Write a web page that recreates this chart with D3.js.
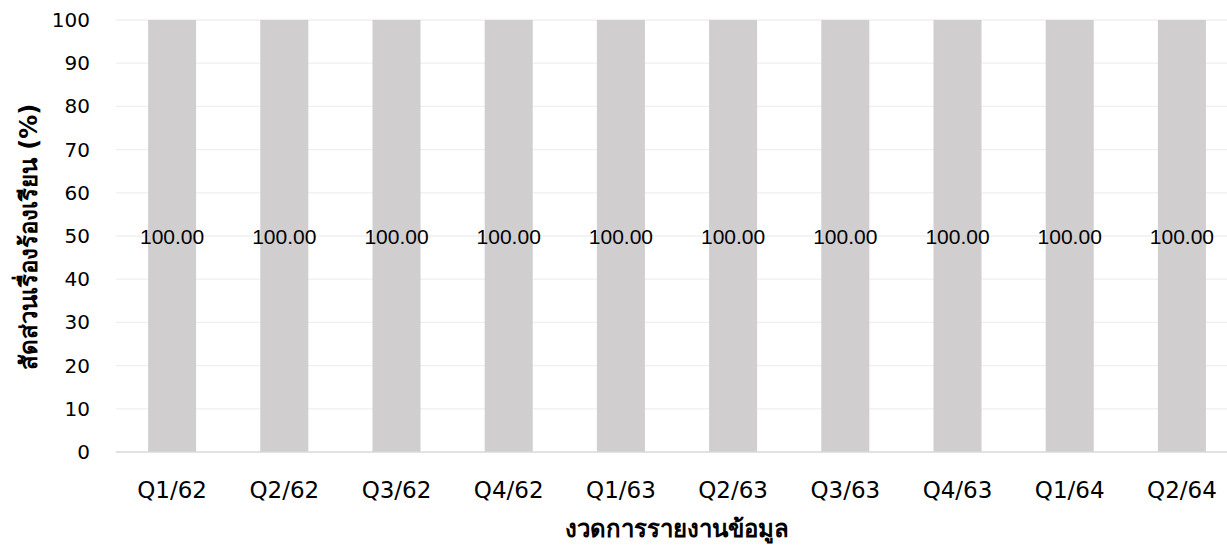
<!DOCTYPE html>
<html>
<head>
<meta charset="utf-8">
<script src="https://cdn.jsdelivr.net/npm/d3@7"></script>
<style>
  html, body { margin: 0; padding: 0; background: #fff; }
  svg { display: block; font-family: "DejaVu Sans", "Noto Sans", sans-serif; }
</style>
</head>
<body>
<svg id="chart" width="1227" height="545"></svg>
<script>
// Reporting periods and complaint share per period (%)
const categories = ["Q1/62", "Q2/62", "Q3/62", "Q4/62", "Q1/63", "Q2/63", "Q3/63", "Q4/63", "Q1/64", "Q2/64"];
const values = [100, 100, 100, 100, 100, 100, 100, 100, 100, 100];
const yTicks = [0, 10, 20, 30, 40, 50, 60, 70, 80, 90, 100];
const xTitle = "งวดการรายงานข้อมูล";
const yTitle = "สัดส่วนเรื่องร้องเรียน (%)";

const svg = d3.select("#chart");
const plot = { left: 116, right: 1238, top: 20, bottom: 452 };

const x = d3.scaleBand()
  .domain(categories)
  .range([plot.left, plot.right])
  .paddingInner(0.572)
  .paddingOuter(0.286);

const y = d3.scaleLinear().domain([0, 100]).range([plot.bottom, plot.top]);

// Horizontal gridlines
svg.append("g")
  .selectAll("line")
  .data(yTicks.filter(d => d > 0))
  .join("line")
  .attr("x1", plot.left).attr("x2", plot.right)
  .attr("y1", d => y(d)).attr("y2", d => y(d))
  .attr("stroke", "#efefef").attr("stroke-width", 1.3);

// Bars
svg.append("g")
  .selectAll("rect")
  .data(categories)
  .join("rect")
  .attr("x", d => x(d))
  .attr("width", x.bandwidth())
  .attr("y", (d, i) => y(values[i]))
  .attr("height", (d, i) => y(0) - y(values[i]))
  .attr("fill", "#d0cece");

// Baseline
svg.append("line")
  .attr("x1", plot.left).attr("x2", plot.right)
  .attr("y1", y(0)).attr("y2", y(0))
  .attr("stroke", "#d9d9d9").attr("stroke-width", 1.5);

// Value labels centred in each bar
svg.append("g")
  .selectAll("text")
  .data(categories)
  .join("text")
  .attr("x", d => x(d) + x.bandwidth() / 2)
  .attr("y", (d, i) => y(values[i] / 2))
  .attr("dy", "0.36em")
  .attr("text-anchor", "middle")
  .attr("font-family", "\"Liberation Sans\", sans-serif")
  .attr("font-size", 21)
  .attr("fill", "#000")
  .text((d, i) => values[i].toFixed(2));

// Y axis tick labels
const yAxis = d3.axisLeft(y).tickValues(yTicks).tickSize(0).tickPadding(0);
const gy = svg.append("g").attr("transform", "translate(90,0)").call(yAxis);
gy.select(".domain").remove();
gy.selectAll("text").attr("font-size", 20).attr("fill", "#000")
  .attr("font-family", "\"DejaVu Sans\", sans-serif");

// X axis tick labels
const xAxis = d3.axisBottom(x).tickSize(0).tickPadding(0);
const gx = svg.append("g").attr("transform", "translate(0,482)").call(xAxis);
gx.select(".domain").remove();
gx.selectAll("text").attr("font-size", 23).attr("fill", "#000")
  .attr("font-family", "\"DejaVu Sans\", sans-serif");

// Axis titles
svg.append("text")
  .attr("x", 677).attr("y", 537)
  .attr("text-anchor", "middle")
  .attr("font-size", 24).attr("font-weight", "bold")
  .text(xTitle);

svg.append("text")
  .attr("transform", "translate(37,237) rotate(-90)")
  .attr("text-anchor", "middle")
  .attr("font-size", 24).attr("font-weight", "bold")
  .text(yTitle);
</script>
</body>
</html>
